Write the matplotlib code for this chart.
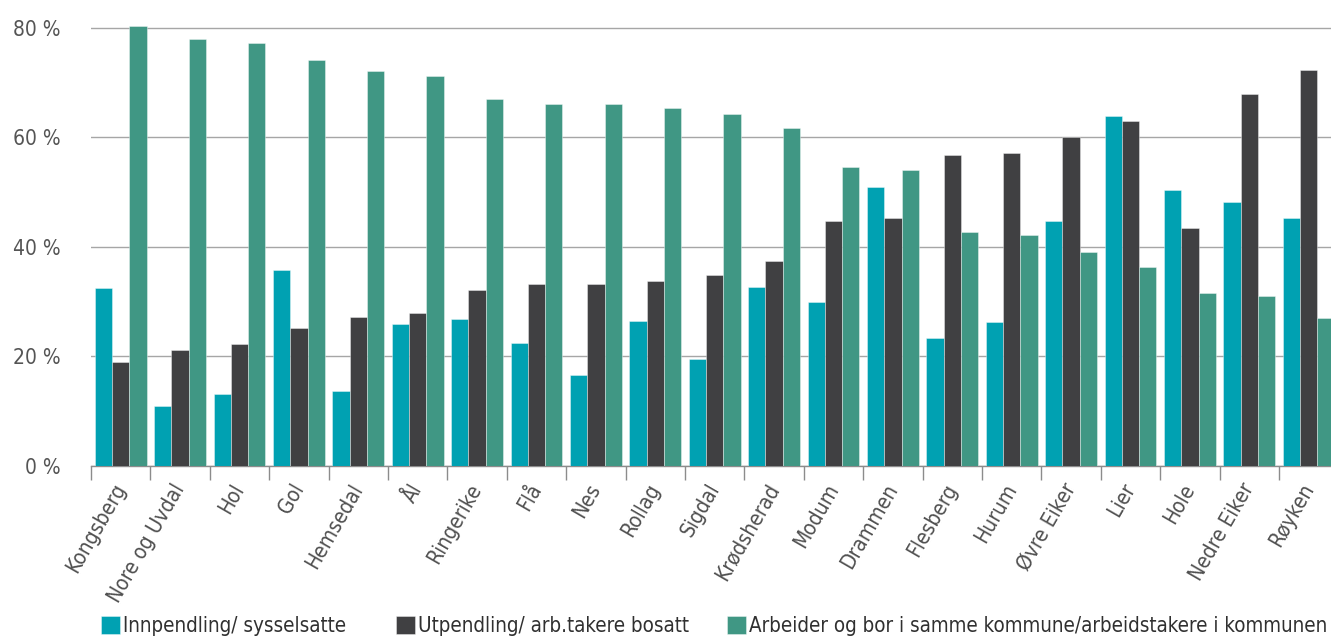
import matplotlib.pyplot as plt
from matplotlib.ticker import FixedLocator
import numpy as np

plt.rcParams['font.family'] = ['DejaVu Sans']
plt.rcParams['font.stretch'] = 'condensed'

kommuner = ['Kongsberg', 'Nore og Uvdal', 'Hol', 'Gol', 'Hemsedal', 'Ål', 'Ringerike',
            'Flå', 'Nes', 'Rollag', 'Sigdal', 'Krødsherad', 'Modum', 'Drammen',
            'Flesberg', 'Hurum', 'Øvre Eiker', 'Lier', 'Hole', 'Nedre Eiker', 'Røyken']

innpendling = [32.4, 10.9, 13.1, 35.7, 13.7, 25.9, 26.7, 22.4, 16.5, 26.5, 19.5,
               32.6, 29.9, 50.8, 23.4, 26.3, 44.7, 63.8, 50.4, 48.2, 45.2]
utpendling = [18.9, 21.1, 22.2, 25.2, 27.2, 27.8, 32.1, 33.2, 33.2, 33.8, 34.9,
              37.3, 44.7, 45.2, 56.7, 57.1, 60.1, 62.9, 43.4, 67.9, 72.3]
samme_kommune = [80.3, 78.0, 77.1, 74.0, 72.1, 71.2, 66.9, 66.0, 66.0, 65.4, 64.3,
                 61.7, 54.5, 54.0, 42.6, 42.1, 39.1, 36.3, 31.5, 31.0, 26.9]

serier = ['Innpendling/ sysselsatte', 'Utpendling/ arb.takere bosatt',
          'Arbeider og bor i samme kommune/arbeidstakere i kommunen']
farger = ['#00a1b2', '#404042', '#409784']

fig = plt.figure(figsize=(13.31, 6.37), dpi=100)
ax = fig.add_axes([91 / 1331, 171.3 / 637, 1247.4 / 1331, 465.5 / 637])

x = np.arange(len(kommuner))
w = 0.29
bars = []
for i, (verdier, farge) in enumerate(zip([innpendling, utpendling, samme_kommune], farger)):
    b = ax.bar(x + (i - 1) * w, verdier, width=w, color=farge,
               edgecolor=(1, 1, 1, 0.45), linewidth=0.6, zorder=3)
    bars.append(b)

ax.set_xlim(-0.5, len(kommuner) - 0.5)
ax.set_ylim(0, 85)
ax.set_yticks([0, 20, 40, 60, 80])
ax.set_yticklabels([f'{v} %' for v in [0, 20, 40, 60, 80]])
ax.yaxis.grid(True, color='#a6a6a6', linewidth=1.0, zorder=0)

ax.set_xticks(x)
ax.set_xticklabels(kommuner, rotation=60, ha='right', va='center', rotation_mode='anchor')
ax.xaxis.set_minor_locator(FixedLocator(np.arange(-0.5, len(kommuner), 1)))
ax.tick_params(axis='x', which='major', length=0, pad=14, labelsize=15, labelcolor='#505050')
ax.tick_params(axis='x', which='minor', length=10, width=1.0, color='#8c8c8c')
ax.tick_params(axis='y', length=0, pad=22, labelsize=15, labelcolor='#555555')

for side in ['top', 'right', 'left']:
    ax.spines[side].set_visible(False)
ax.spines['bottom'].set_color('#8c8c8c')
ax.spines['bottom'].set_linewidth(1.0)

# one legend per series so each entry sits at its own x position
for b, navn, x0 in zip(bars, serier, [101, 396, 727]):
    fig.legend([b], [navn], loc='lower left', bbox_to_anchor=(x0 / 1331, 0.002),
               frameon=False, fontsize=14.8, handlelength=0.9, handleheight=0.95,
               handletextpad=0.15, borderpad=0, borderaxespad=0, labelcolor='#303030')

fig.savefig('out.png', dpi=100)
